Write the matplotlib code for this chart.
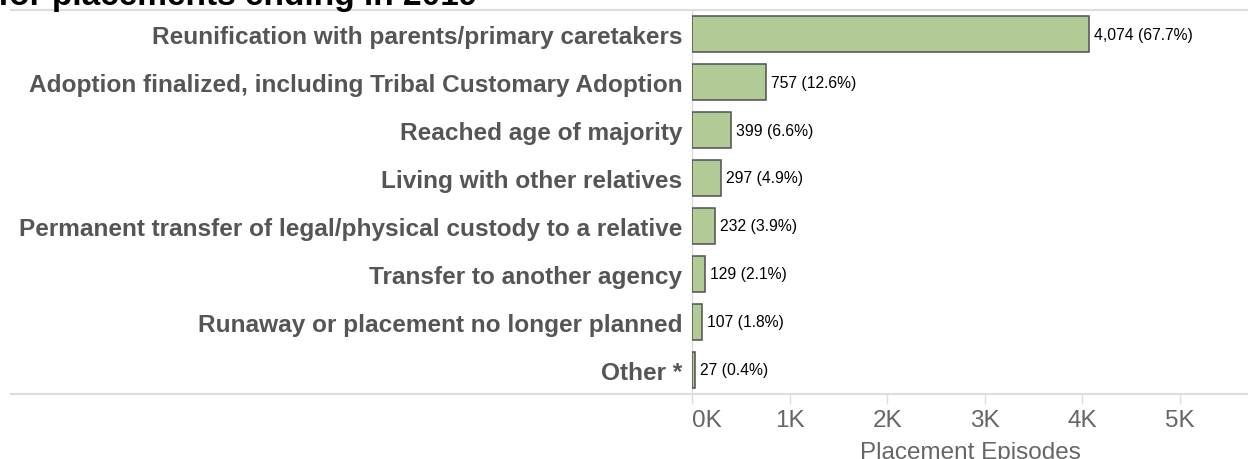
import matplotlib
matplotlib.use("Agg")
import matplotlib.pyplot as plt
from matplotlib.lines import Line2D

plt.rcParams['font.family'] = ['Liberation Sans', 'DejaVu Sans']

categories = [
    "Reunification with parents/primary caretakers",
    "Adoption finalized, including Tribal Customary Adoption",
    "Reached age of majority",
    "Living with other relatives",
    "Permanent transfer of legal/physical custody to a relative",
    "Transfer to another agency",
    "Runaway or placement no longer planned",
    "Other *",
]
episodes = [4074, 757, 399, 297, 232, 129, 107, 27]
percents = [67.7, 12.6, 6.6, 4.9, 3.9, 2.1, 1.8, 0.4]
xticks = [0, 1000, 2000, 3000, 4000, 5000]
xticklabels = ["0K", "1K", "2K", "3K", "4K", "5K"]

W, H = 1248, 460
fig = plt.figure(figsize=(W / 100, H / 100), dpi=100)

# axes box in pixel terms: left 692, top 11, bottom 395
ax = fig.add_axes([692 / W, (H - 395) / H, 1 - 692 / W, (395 - 11) / H])

ypos = list(range(len(categories)))
ax.barh(ypos, episodes, height=0.75, color="#b2cb96", edgecolor="#505050",
        linewidth=1.1, zorder=3)

for y, v, p in zip(ypos, episodes, percents):
    ax.annotate(f"{v:,} ({p}%)", xy=(v, y), xytext=(5, 0),
                textcoords="offset pixels", va="center", ha="left",
                fontsize=11.3, color="black")

ax.set_ylim(len(categories) - 0.5, -0.5)
ax.set_xlim(0, 5700)
ax.set_yticks(ypos)
ax.set_yticklabels(categories, fontsize=17.6, fontweight="bold", color="#555555")
ax.tick_params(axis="y", length=0, pad=7)
ax.set_xticks(xticks)
labels = ax.set_xticklabels(xticklabels, fontsize=17.5, color="#666666")
labels[0].set_ha("left")  # first label sits inside the pane
ax.tick_params(axis="x", length=7, width=1, color="#dddddd", pad=4)
ax.set_xlabel("Placement Episodes", fontsize=17.5, color="#666666", labelpad=7)

for s in ["top", "right", "bottom"]:
    ax.spines[s].set_visible(False)
ax.spines["left"].set_color("#dddddd")
ax.spines["left"].set_linewidth(1)

# header and footer rules spanning the label column too
for yy in [11, 395]:
    fig.add_artist(Line2D([11 / W, 1], [1 - yy / H, 1 - yy / H],
                          color="#dddddd", linewidth=1.5))

# title is clipped by the top edge, as in the source
fig.text(-2 / W, 1 - 5 / H, "for placements ending in 2019", fontsize=24,
         fontweight="bold", color="black", ha="left", va="baseline")

fig.savefig("out.png", dpi=100)
